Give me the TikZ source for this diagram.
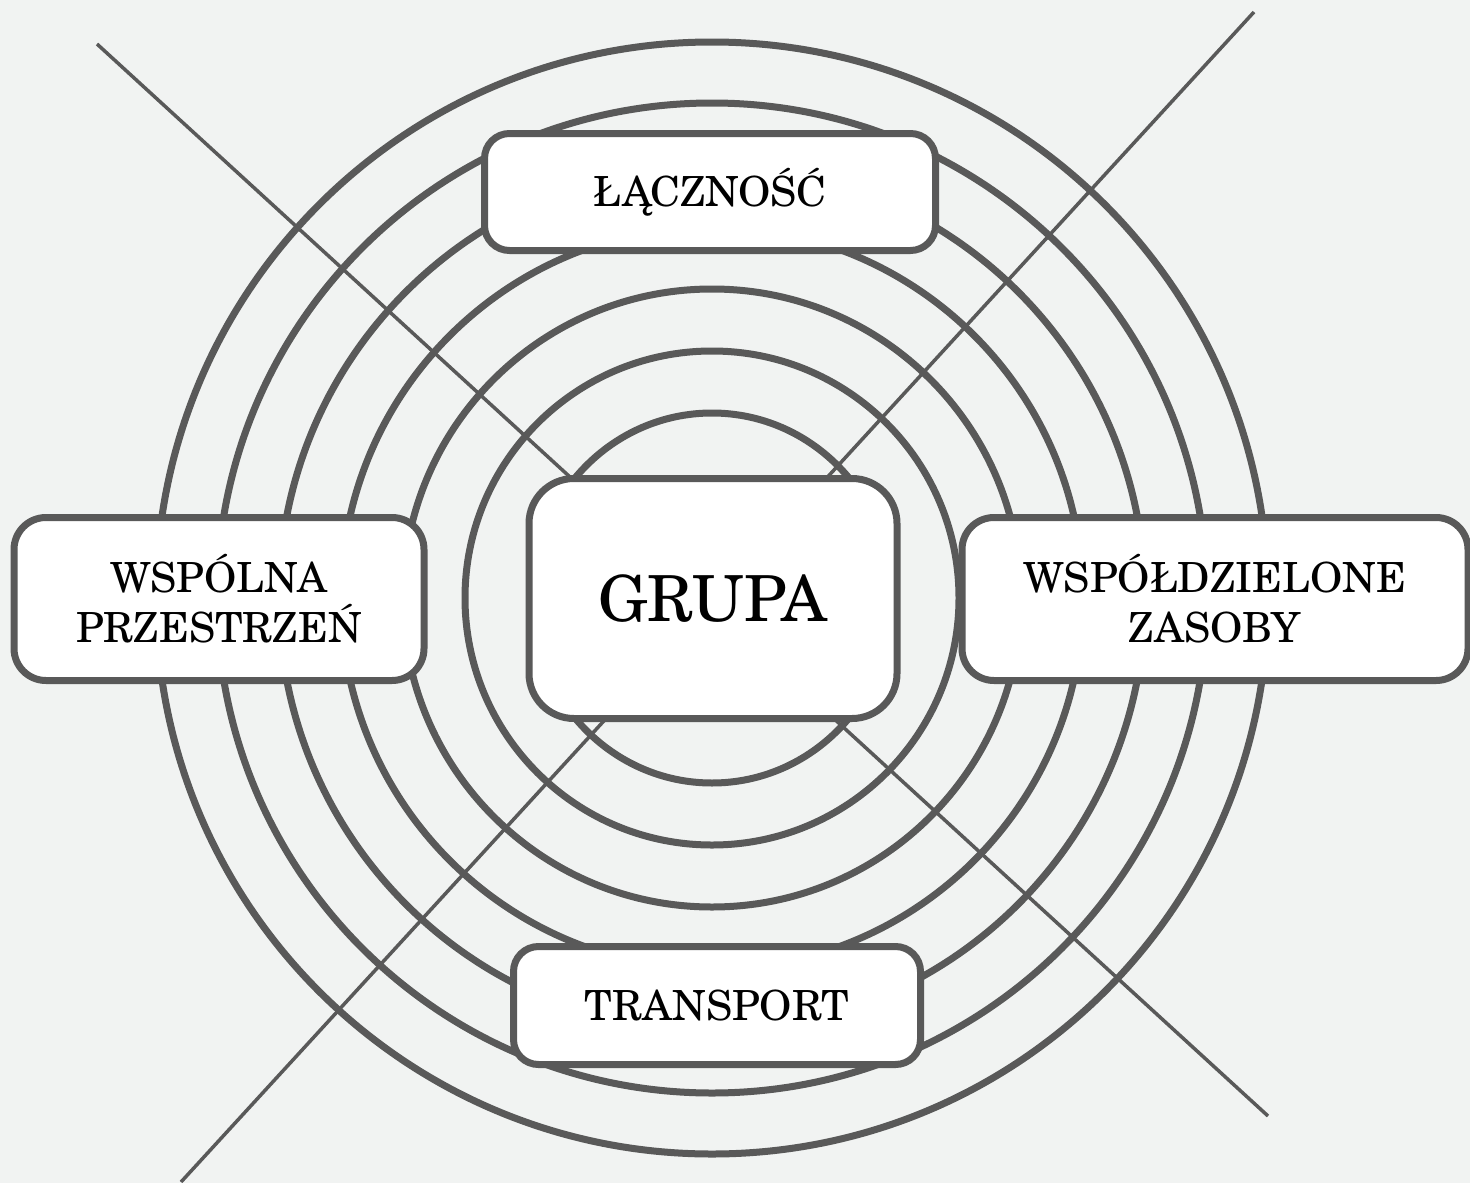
\documentclass[tikz,border=0pt]{standalone}
\usepackage{fontspec}
\setmainfont{texgyreschola-regular.otf}
\definecolor{ln}{HTML}{595959}
\definecolor{bg}{HTML}{F1F3F2}
\begin{document}
\begin{tikzpicture}[x=1pt,y=-1pt,
  ring/.style={draw=ln, line width=7pt},
  ray/.style={draw=ln, line width=3.5pt},
  box/.style={draw=ln, fill=white, line width=7pt, rounded corners=#1, align=center, inner sep=0pt, text=black},
  box/.default=25pt,
  lbl/.style={font=\fontsize{41.5}{50}\selectfont},
  big/.style={font=\fontsize{63.5}{70}\selectfont}
]
\useasboundingbox (0,0) rectangle (1470,1183);
\fill[bg] (0,0) rectangle (1470,1183);
\coordinate (c) at (712,598);
\coordinate (r1a) at (97,44);
\coordinate (r1b) at (1268,1116);
\coordinate (r2a) at (1254,12);
\coordinate (r2b) at (181,1182);
\draw[ray] (r1a) -- (r1b);
\draw[ray] (r2a) -- (r2b);
\draw[ring] (c) ellipse[x radius=180, y radius=185];
\foreach \r in {247,309,371,433,495,556} \draw[ring] (c) circle[radius=\r];
\node[box=25pt, minimum width=451pt, minimum height=117pt, lbl] (lacz) at (710,192) {ŁĄCZNOŚĆ};
\node[box=25pt, minimum width=407pt, minimum height=118pt, lbl] (trans) at (717,1005.5) {TRANSPORT};
\node[box=32pt, minimum width=410pt, minimum height=163pt, lbl] (wsp) at (219,599) {WSPÓLNA\\PRZESTRZEŃ};
\node[box=32pt, minimum width=506pt, minimum height=163pt, lbl] (zas) at (1215,599) {WSPÓŁDZIELONE\\ZASOBY};
\node[box=45pt, minimum width=368pt, minimum height=240pt, big] (grupa) at (713,598.5) {GRUPA};
\end{tikzpicture}
\end{document}
